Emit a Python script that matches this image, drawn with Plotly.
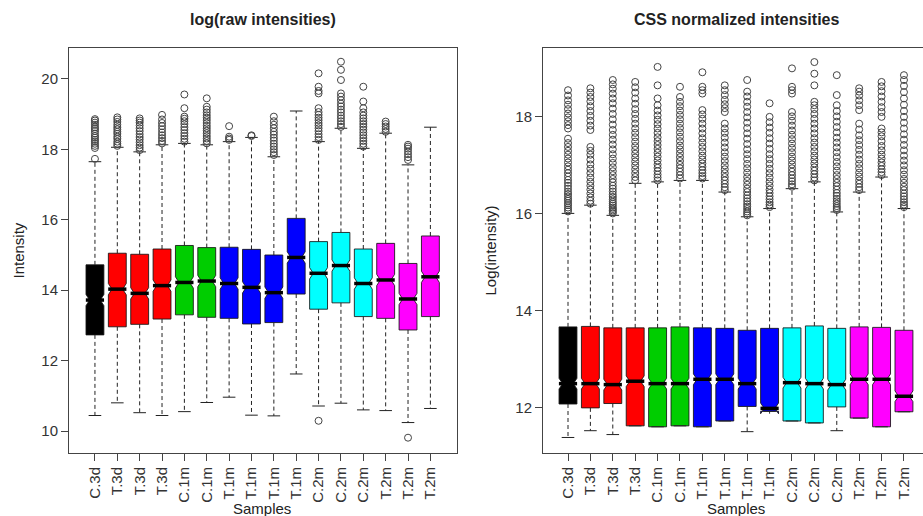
import plotly.graph_objects as go

# ---------------- data ----------------
labels = ["C.3d", "T.3d", "T.3d", "T.3d", "C.1m", "C.1m", "T.1m", "T.1m",
          "T.1m", "T.1m", "C.2m", "C.2m", "C.2m", "T.2m", "T.2m", "T.2m"]
positions = list(range(1, 17))
box_colors = ["#000000", "#FF0000", "#FF0000", "#FF0000", "#00CD00", "#00CD00",
              "#0000FF", "#0000FF", "#0000FF", "#0000FF", "#00FFFF", "#00FFFF",
              "#00FFFF", "#FF00FF", "#FF00FF", "#FF00FF"]

# left panel: log(raw intensities)
raw_q1 = [12.73, 12.96, 13.03, 13.18, 13.30, 13.23, 13.20, 13.04, 13.08, 13.89, 13.46, 13.64, 13.25, 13.20, 12.87, 13.25]
raw_med = [13.72, 14.03, 13.91, 14.13, 14.22, 14.26, 14.19, 14.08, 13.93, 14.93, 14.48, 14.70, 14.19, 14.29, 13.75, 14.38]
raw_q3 = [14.72, 15.05, 15.02, 15.17, 15.27, 15.21, 15.22, 15.16, 15.00, 16.04, 15.38, 15.64, 15.17, 15.33, 14.76, 15.54]
raw_lo = [10.44, 10.80, 10.52, 10.44, 10.55, 10.81, 10.96, 10.45, 10.43, 11.62, 10.71, 10.79, 10.60, 10.58, 10.24, 10.64]
raw_hi = [17.65, 18.06, 17.93, 18.13, 18.17, 18.13, 18.22, 18.34, 17.79, 19.09, 18.22, 18.60, 18.03, 18.46, 17.56, 18.63]
raw_notch = [0.16] * 16
raw_out = [
    [17.73, 18.04, 18.10, 18.16, 18.22, 18.27, 18.33, 18.38, 18.45, 18.52, 18.58, 18.63, 18.70, 18.76, 18.82, 18.86],
    [18.10, 18.16, 18.22, 18.30, 18.36, 18.44, 18.50, 18.57, 18.63, 18.70, 18.78, 18.85, 18.91],
    [17.98, 18.05, 18.12, 18.20, 18.28, 18.35, 18.43, 18.52, 18.60, 18.68, 18.76, 18.82, 18.88],
    [18.17, 18.24, 18.32, 18.40, 18.48, 18.57, 18.66, 18.75, 18.85, 18.98],
    [18.22, 18.30, 18.38, 18.46, 18.55, 18.63, 18.72, 18.80, 18.87, 18.93, 19.17, 19.56],
    [18.17, 18.24, 18.31, 18.38, 18.46, 18.53, 18.60, 18.67, 18.75, 18.83, 18.90, 18.97, 19.05, 19.13, 19.21, 19.45],
    [18.27, 18.31, 18.36, 18.66],
    [18.38, 18.40],
    [17.84, 17.92, 18.00, 18.08, 18.16, 18.25, 18.33, 18.42, 18.50, 18.60, 18.70, 18.80, 18.93],
    [],
    [10.29, 18.27, 18.35, 18.43, 18.52, 18.60, 18.68, 18.75, 18.83, 18.90, 18.98, 19.06, 19.17, 19.59, 19.66, 19.78, 20.16],
    [18.64, 18.72, 18.80, 18.88, 18.96, 19.05, 19.13, 19.22, 19.30, 19.40, 19.50, 19.59, 19.97, 20.26, 20.49],
    [18.08, 18.16, 18.24, 18.32, 18.40, 18.48, 18.56, 18.64, 18.72, 18.80, 18.88, 18.96, 19.05, 19.17, 19.36, 19.78],
    [18.50, 18.58, 18.65, 18.72, 18.79],
    [9.81, 17.70, 17.78, 17.86, 17.94, 18.02, 18.08, 18.13],
    [],
]

# right panel: CSS normalized intensities
css_q1 = [12.08, 12.00, 12.09, 11.63, 11.61, 11.63, 11.61, 11.73, 12.03, 11.93, 11.73, 11.69, 12.02, 11.79, 11.61, 11.92]
css_med = [12.50, 12.50, 12.48, 12.55, 12.50, 12.50, 12.59, 12.59, 12.50, 11.99, 12.52, 12.50, 12.48, 12.59, 12.59, 12.24]
css_q3 = [13.67, 13.68, 13.65, 13.65, 13.65, 13.67, 13.65, 13.64, 13.60, 13.64, 13.65, 13.69, 13.64, 13.67, 13.66, 13.60]
css_lo = [11.39, 11.53, 11.45, 11.63, 11.61, 11.63, 11.61, 11.73, 11.51, 11.93, 11.73, 11.69, 11.53, 11.79, 11.61, 11.92]
css_hi = [16.01, 16.18, 15.97, 16.63, 16.66, 16.69, 16.69, 16.45, 15.94, 16.11, 16.52, 16.66, 16.04, 16.45, 16.76, 16.11]
css_notch = [0.11] * 16
css_out = [
    [16.05, 16.09, 16.13, 16.18, 16.22, 16.27, 16.31, 16.36, 16.41, 16.46, 16.52, 16.58, 16.64, 16.70, 16.77, 16.84, 16.91,
     16.98, 17.06, 17.14, 17.22, 17.30, 17.38, 17.46, 17.55, 17.76, 17.83, 17.91, 17.99, 18.07, 18.16, 18.25, 18.34, 18.44, 18.55],
    [16.21, 16.27, 16.34, 16.42, 16.50, 16.58, 16.66, 16.75, 16.84, 16.93, 17.02, 17.12, 17.22, 17.30, 17.38,
     17.73, 17.82, 17.92, 18.02, 18.12, 18.22, 18.32, 18.41, 18.50, 18.59],
    [16.01, 16.04, 16.07, 16.10, 16.13, 16.17, 16.21, 16.25, 16.30, 16.35, 16.40, 16.46, 16.52, 16.58, 16.65, 16.72, 16.80,
     16.88, 16.96, 17.05, 17.14, 17.23, 17.33, 17.43, 17.53, 17.63, 17.73, 17.84, 17.95, 18.06, 18.17, 18.28, 18.38, 18.48,
     18.58, 18.67, 18.76],
    [16.69, 16.76, 16.84, 16.92, 17.00, 17.08, 17.16, 17.24, 17.32, 17.40, 17.49, 17.58, 17.67, 17.76, 17.86, 17.96, 18.06,
     18.16, 18.27, 18.38, 18.50, 18.61, 18.72],
    [16.69, 16.75, 16.81, 16.88, 16.95, 17.02, 17.10, 17.18, 17.26, 17.34, 17.42, 17.50, 17.58, 17.67, 17.76, 17.85, 17.94,
     18.03, 18.13, 18.24, 18.38, 18.65, 19.03],
    [16.73, 16.80, 16.87, 16.94, 17.01, 17.09, 17.17, 17.25, 17.33, 17.41, 17.50, 17.59, 17.68, 17.77, 17.86, 17.95, 18.04,
     18.13, 18.22, 18.31, 18.41, 18.62],
    [16.73, 16.78, 16.84, 16.90, 16.97, 17.04, 17.12, 17.20, 17.29, 17.38, 17.47, 17.56, 17.66, 17.76, 17.86, 17.96, 18.05,
     18.14, 18.48, 18.55, 18.62, 18.92],
    [16.49, 16.55, 16.62, 16.69, 16.76, 16.84, 16.92, 17.00, 17.09, 17.18, 17.27, 17.37, 17.47, 17.57, 17.67, 17.76, 17.86,
     18.10, 18.18, 18.26, 18.35, 18.45, 18.55, 18.65],
    [15.97, 16.01, 16.05, 16.10, 16.15, 16.20, 16.26, 16.32, 16.38, 16.45, 16.52, 16.60, 16.68, 16.76, 16.85, 16.94, 17.03,
     17.13, 17.23, 17.33, 17.44, 17.55, 17.66, 17.77, 17.88, 17.99, 18.10, 18.21, 18.31, 18.42, 18.52, 18.76],
    [16.14, 16.19, 16.24, 16.30, 16.36, 16.43, 16.50, 16.58, 16.66, 16.75, 16.84, 16.93, 17.03, 17.13, 17.23, 17.34, 17.45,
     17.56, 17.67, 17.78, 17.89, 18.00, 18.28],
    [16.56, 16.61, 16.67, 16.73, 16.80, 16.87, 16.94, 17.02, 17.10, 17.18, 17.27, 17.36, 17.45, 17.54, 17.63, 17.72, 17.82,
     17.92, 18.01, 18.10, 18.48, 18.55, 18.62, 19.00],
    [16.69, 16.75, 16.82, 16.89, 16.96, 17.04, 17.12, 17.20, 17.29, 17.38, 17.47, 17.56, 17.66, 17.76, 17.86, 17.96, 18.06,
     18.16, 18.24, 18.31, 18.65, 18.89, 19.13],
    [16.08, 16.12, 16.16, 16.21, 16.26, 16.31, 16.37, 16.43, 16.50, 16.57, 16.64, 16.72, 16.80, 16.89, 16.98, 17.07, 17.17,
     17.27, 17.37, 17.47, 17.57, 17.68, 17.79, 17.90, 18.01, 18.12, 18.24, 18.45, 18.86],
    [16.49, 16.55, 16.62, 16.69, 16.77, 16.85, 16.94, 17.03, 17.12, 17.22, 17.32, 17.42, 17.52, 17.62, 17.74, 17.86, 18.14,
     18.24, 18.34, 18.44, 18.52, 18.59],
    [16.80, 16.86, 16.92, 16.99, 17.06, 17.14, 17.22, 17.31, 17.40, 17.50, 17.60, 17.68, 17.76, 18.00, 18.10, 18.20, 18.31,
     18.42, 18.53, 18.63, 18.72],
    [16.14, 16.19, 16.24, 16.30, 16.36, 16.42, 16.49, 16.56, 16.64, 16.72, 16.81, 16.90, 17.00, 17.10, 17.20, 17.31, 17.42,
     17.53, 17.64, 17.76, 17.88, 18.00, 18.12, 18.25, 18.38, 18.51, 18.64, 18.76, 18.86],
]

raw_yticks = [10, 12, 14, 16, 18, 20]
css_yticks = [12, 14, 16, 18]

# ---------------- figure ----------------
FONT = "Liberation Sans, Arial, sans-serif"
fig = go.Figure()


def add_panel(xa, ya, q1, med, q3, lo, hi, notch, outl):
    for i, p in enumerate(positions):
        fig.add_trace(go.Box(
            x=[p], q1=[q1[i]], median=[med[i]], q3=[q3[i]],
            lowerfence=[q1[i]], upperfence=[q3[i]],
            notched=True, notchspan=[notch[i]], notchwidth=0.2,
            width=0.8, fillcolor=box_colors[i],
            line=dict(color="rgba(20,20,20,0.85)", width=1),
            boxpoints=False, whiskerwidth=0,
            xaxis=xa, yaxis=ya, showlegend=False, hoverinfo="skip"))
    wx, wy = [], []
    for i, p in enumerate(positions):
        wx += [p, p, None, p, p, None]
        wy += [q3[i], hi[i], None, q1[i], lo[i], None]
    fig.add_trace(go.Scatter(x=wx, y=wy, mode="lines",
                             line=dict(color="#222", width=1, dash="4px,3px"),
                             xaxis=xa, yaxis=ya, showlegend=False, hoverinfo="skip"))
    fig.add_trace(go.Scatter(x=positions + positions, y=lo + hi, mode="markers",
                             marker=dict(symbol="line-ew", size=9,
                                         line=dict(color="#222", width=1)),
                             xaxis=xa, yaxis=ya, showlegend=False, hoverinfo="skip"))
    fig.add_trace(go.Scatter(x=positions, y=med, mode="markers",
                             marker=dict(symbol="line-ew", size=13,
                                         line=dict(color="#000", width=3.5)),
                             xaxis=xa, yaxis=ya, showlegend=False, hoverinfo="skip"))
    ox, oy = [], []
    for i, p in enumerate(positions):
        ox += [p] * len(outl[i])
        oy += outl[i]
    fig.add_trace(go.Scatter(x=ox, y=oy, mode="markers",
                             marker=dict(symbol="circle-open", size=7,
                                         line=dict(color="#444", width=1), color="#444"),
                             xaxis=xa, yaxis=ya, showlegend=False, hoverinfo="skip"))


add_panel("x", "y", raw_q1, raw_med, raw_q3, raw_lo, raw_hi, raw_notch, raw_out)
add_panel("x2", "y2", css_q1, css_med, css_q3, css_lo, css_hi, css_notch, css_out)

W, H = 923, 516
axis_common = dict(showgrid=False, zeroline=False, showline=True, linecolor="#444",
                   linewidth=1, ticks="outside", ticklen=7, tickcolor="#444",
                   tickfont=dict(family=FONT, size=15, color="#333"))

fig.update_layout(
    width=W, height=H,
    margin=dict(l=0, r=0, t=48, b=63),
    paper_bgcolor="white", plot_bgcolor="white",
    font=dict(family=FONT, color="#222"),
    xaxis=dict(domain=[69 / W, 457 / W], range=[-0.16, 17.19], tickvals=positions,
               ticktext=labels, tickangle=-90, mirror=True, anchor="y", **axis_common),
    yaxis=dict(domain=[0, 1], range=[9.375, 20.88], tickvals=raw_yticks,
               mirror=True, anchor="x", **axis_common),
    xaxis2=dict(domain=[543 / W, 1.0], range=[-0.116, 16.85], tickvals=positions,
                ticktext=labels, tickangle=-90, mirror=True, anchor="y2", **axis_common),
    yaxis2=dict(domain=[0, 1], range=[11.07, 19.42], tickvals=css_yticks,
                mirror=False, anchor="x2", **axis_common),
)

ann_font = dict(family=FONT, size=15, color="#222")
title_font = dict(family=FONT, size=16, color="#222")
fig.add_annotation(text="<b>log(raw intensities)</b>", x=263 / W, y=1.0716, xref="paper", yref="paper",
                   showarrow=False, font=title_font, xanchor="center", yanchor="middle")
fig.add_annotation(text="<b>CSS normalized intensities</b>", x=736 / W, y=1.0716, xref="paper", yref="paper",
                   showarrow=False, font=title_font, xanchor="center", yanchor="middle")
fig.add_annotation(text="Samples", x=262 / W, y=(453 - 508) / 405, xref="paper", yref="paper",
                   showarrow=False, font=ann_font, xanchor="center", yanchor="middle")
fig.add_annotation(text="Samples", x=736 / W, y=(453 - 508) / 405, xref="paper", yref="paper",
                   showarrow=False, font=ann_font, xanchor="center", yanchor="middle")
fig.add_annotation(text="Intensity", x=18 / W, y=0.5, xref="paper", yref="paper", textangle=-90,
                   showarrow=False, font=ann_font, xanchor="center", yanchor="middle")
fig.add_annotation(text="Log(intensity)", x=490 / W, y=0.5, xref="paper", yref="paper", textangle=-90,
                   showarrow=False, font=ann_font, xanchor="center", yanchor="middle")

fig.write_html("out.html", config={"displayModeBar": False},
               post_script="document.body.style.margin='0';document.body.style.overflow='hidden';")
